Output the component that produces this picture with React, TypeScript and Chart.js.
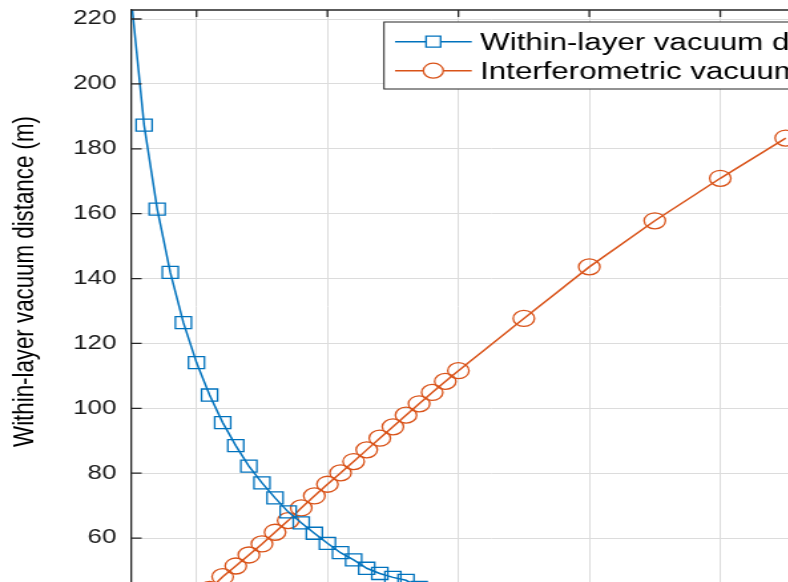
import React, { useEffect, useRef } from "react";
import { Chart, registerables } from "chart.js";

Chart.register(...registerables);

// ---- data ----
const xWithin = [0.5, 0.6, 0.7, 0.8, 0.9, 1.0, 1.1, 1.2, 1.3, 1.4, 1.5, 1.6, 1.7, 1.8, 1.9, 2.0, 2.1, 2.2, 2.3, 2.4, 2.5, 2.6, 2.7];
const yWithin = [227, 187.3, 161.4, 141.9, 126.4, 114.1, 104.1, 95.6, 88.5, 82.2, 77.0, 72.4, 68.1, 64.7, 61.5, 58.4, 55.5, 53.3, 50.7, 49.1, 47.9, 47.0, 44.8];

const xInterf = [1.0, 1.1, 1.2, 1.3, 1.4, 1.5, 1.6, 1.7, 1.8, 1.9, 2.0, 2.1, 2.2, 2.3, 2.4, 2.5, 2.6, 2.7, 2.8, 2.9, 3.0, 3.5, 4.0, 4.5, 5.0, 5.5];
const yInterf = [40.8, 44.2, 48.1, 51.4, 54.8, 58.2, 61.8, 65.4, 69.3, 73.0, 76.6, 80.1, 83.6, 87.2, 90.8, 94.3, 97.9, 101.4, 104.9, 108.3, 111.6, 127.7, 143.6, 157.8, 170.9, 183.3];

const yTicks = [40, 60, 80, 100, 120, 140, 160, 180, 200, 220];
const xTicks = [1, 2, 3, 4, 5, 6];

const seriesLabels = ["Within-layer vacuum distance", "Interferometric vacuum distance"];
const yAxisTitle = "Within-layer vacuum distance (m)";

// ---- style ----
const BLUE = "#0072BD";
const ORANGE = "#D95319";
const AXIS = "#262626";
const GRID = "#dcdcdc";
const FONT = "'Liberation Sans', Arial, Helvetica, sans-serif";
const STRETCH = 1.33;
const CW = 700;
const CH = 640;

const framePlugin = {
  id: "matlabFrame",
  afterDraw(chart: any) {
    const ctx = chart.ctx;
    const { left, right, top } = chart.chartArea;
    const xs = chart.scales.x;
    const ys = chart.scales.y;
    ctx.save();
    ctx.strokeStyle = AXIS;
    ctx.lineWidth = 1.3;
    // top frame
    ctx.beginPath();
    ctx.moveTo(left, top);
    ctx.lineTo(right, top);
    ctx.stroke();
    // inward y ticks
    ctx.beginPath();
    for (const v of yTicks) {
      const py = ys.getPixelForValue(v);
      if (py < top) continue;
      ctx.moveTo(left, py);
      ctx.lineTo(left + 8, py);
    }
    // inward x ticks at top
    for (const v of xTicks) {
      const px = xs.getPixelForValue(v);
      ctx.moveTo(px, top);
      ctx.lineTo(px, top + 7);
    }
    ctx.stroke();

    // y-axis title
    ctx.save();
    ctx.translate(18.6, 281.5);
    ctx.rotate(-Math.PI / 2);
    ctx.fillStyle = "#000";
    ctx.font = `22.3px ${FONT}`;
    ctx.textAlign = "center";
    ctx.textBaseline = "middle";
    ctx.fillText(yAxisTitle, 0, 0);
    ctx.restore();

    // legend
    ctx.font = `23.5px ${FONT}`;
    const maxW = Math.max(...seriesLabels.map((s) => ctx.measureText(s).width));
    const bx = 288.7;
    const by = 22;
    const bh = 67;
    const textX = 361;
    const bw = textX - bx + maxW + 10;
    ctx.fillStyle = "#fff";
    ctx.fillRect(bx, by, bw, bh);
    ctx.strokeStyle = AXIS;
    ctx.lineWidth = 1;
    ctx.strokeRect(bx, by, bw, bh);
    const colors = [BLUE, ORANGE];
    for (let i = 0; i < seriesLabels.length; i++) {
      const ry = by + 19.7 + i * 29;
      ctx.strokeStyle = colors[i];
      ctx.lineWidth = 1.5;
      ctx.beginPath();
      ctx.moveTo(297, ry);
      ctx.lineTo(354.7, ry);
      ctx.stroke();
      ctx.lineWidth = 1.3;
      ctx.beginPath();
      if (i === 0) {
        ctx.rect(325.8 - 5.5, ry - 5.5, 11, 11);
      } else {
        ctx.arc(325.8, ry, 7.5, 0, Math.PI * 2);
      }
      ctx.fillStyle = "#fff";
      ctx.fill();
      ctx.stroke();
      ctx.fillStyle = "#000";
      ctx.textAlign = "left";
      ctx.textBaseline = "alphabetic";
      ctx.fillText(seriesLabels[i], textX, ry + 7.8);
    }
    ctx.restore();
  },
};

export default function App() {
  const ref = useRef<HTMLCanvasElement | null>(null);

  useEffect(() => {
    if (!ref.current) return;
    const chart = new Chart(ref.current, {
      type: "line",
      data: {
        datasets: [
          {
            label: seriesLabels[0],
            data: xWithin.map((x, i) => ({ x, y: yWithin[i] })),
            borderColor: BLUE,
            borderWidth: 1.5,
            pointStyle: "rect",
            pointRadius: 8.5,
            pointBorderWidth: 1.3,
            pointBorderColor: BLUE,
            pointBackgroundColor: "rgba(0,0,0,0)",
            tension: 0,
          },
          {
            label: seriesLabels[1],
            data: xInterf.map((x, i) => ({ x, y: yInterf[i] })),
            borderColor: ORANGE,
            borderWidth: 1.5,
            pointStyle: "circle",
            pointRadius: 8,
            pointBorderWidth: 1.3,
            pointBorderColor: ORANGE,
            pointBackgroundColor: "rgba(0,0,0,0)",
            tension: 0,
          },
        ],
      },
      options: {
        responsive: false,
        animation: false,
        devicePixelRatio: 1,
        layout: { padding: { top: 10, right: 60, bottom: 37, left: 0 } },
        plugins: {
          legend: { display: false },
          tooltip: { enabled: false },
          title: { display: false },
        },
        scales: {
          x: {
            type: "linear",
            min: 0.5,
            max: 6,
            ticks: { display: false },
            grid: { color: GRID, lineWidth: 1, drawTicks: false },
            border: { display: false },
            afterBuildTicks: (s: any) => {
              s.ticks = xTicks.map((v) => ({ value: v }));
            },
            afterFit: (s: any) => {
              s.height = 0;
              s.paddingLeft = 0;
              s.paddingRight = 0;
            },
          },
          y: {
            type: "linear",
            min: 40,
            max: 222.774,
            ticks: {
              color: "#1a1a1a",
              padding: 11,
              font: { family: FONT, size: 19.5 },
            },
            grid: { color: GRID, lineWidth: 1, drawTicks: false },
            border: { display: true, color: AXIS, width: 1.3 },
            afterBuildTicks: (s: any) => {
              s.ticks = yTicks.map((v) => ({ value: v }));
            },
            afterFit: (s: any) => {
              s.width = 98.5;
              s.paddingTop = 0;
              s.paddingBottom = 0;
            },
          },
        },
      },
      plugins: [framePlugin],
    } as any);
    return () => chart.destroy();
  }, []);

  return (
    <div
      style={{
        position: "fixed",
        left: 0,
        top: 0,
        width: 788,
        height: 582,
        overflow: "hidden",
        background: "#fff",
      }}
    >
      <div
        style={{
          position: "absolute",
          left: 0,
          top: 0,
          width: CW,
          height: CH,
          transform: `scaleX(${STRETCH})`,
          transformOrigin: "0 0",
        }}
      >
        <canvas ref={ref} width={CW} height={CH} style={{ display: "block", width: CW, height: CH }} />
      </div>
    </div>
  );
}
